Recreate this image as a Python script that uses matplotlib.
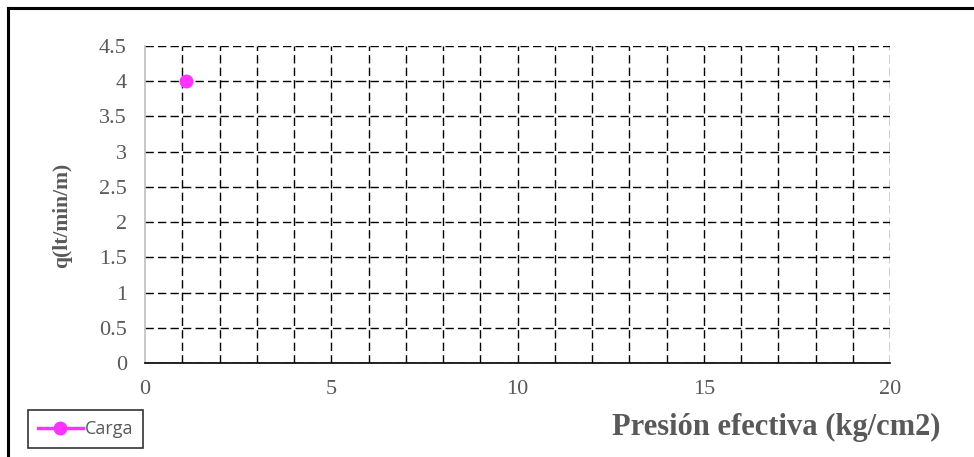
import matplotlib
matplotlib.use("Agg")
import matplotlib.pyplot as plt
from matplotlib.lines import Line2D
import numpy as np

presion = [1.1]
caudal = [4.0]
serie = "Carga"
xlabel = "Presión efectiva (kg/cm2)"
ylabel = "q(lt/min/m)"
xticks = [0, 5, 10, 15, 20]
yticks = [0, 0.5, 1, 1.5, 2, 2.5, 3, 3.5, 4, 4.5]

gray = "#595959"
mag = "#FF33FF"

fig = plt.figure(figsize=(9.74, 4.57), dpi=100)
ax = fig.add_axes([145/974, 1-363/457, (890-145)/974, (363-46)/457])

ax.plot(presion, caudal, color=mag, marker="o", markersize=9, linewidth=2.5, label=serie, zorder=5, clip_on=False)

ax.set_xlim(0, 20)
ax.set_ylim(0, 4.5)
ax.set_xticks(xticks)
ax.set_xticks(np.arange(0, 21, 1), minor=True)
ax.set_yticks(yticks)
ax.set_yticklabels([f"{v:g}" for v in yticks])
ax.tick_params(axis="both", which="both", length=0, labelcolor=gray, labelsize=16)
ax.tick_params(axis="y", pad=13)
ax.tick_params(axis="x", pad=12)
for lab in ax.get_xticklabels() + ax.get_yticklabels():
    lab.set_fontfamily("Liberation Serif")

ax.grid(True, which="both", axis="x", color="black", linestyle=(0, (6, 3)), linewidth=1)
ax.grid(True, which="major", axis="y", color="black", linestyle=(0, (6, 3)), linewidth=1)
ax.set_axisbelow(True)
ax.xaxis.get_major_ticks()[0].gridline.set_visible(False)
ax.spines["top"].set_visible(False)
ax.spines["right"].set_visible(False)
ax.spines["left"].set_color("#BFBFBF")
ax.spines["left"].set_linewidth(1.2)
ax.spines["bottom"].set_color("black")
ax.spines["bottom"].set_linewidth(1.2)

fig.text(776/974, 1-427/457, xlabel, ha="center", va="center", fontsize=22,
         fontweight="bold", color=gray, family="Liberation Serif")
fig.text(62/974, 1-215/457, ylabel, ha="center", va="center", fontsize=15.5,
         fontweight="bold", color=gray, family="Liberation Serif", rotation=90)

leg = ax.legend(loc="center", bbox_to_anchor=(85.5/974, 1-429/457), bbox_transform=fig.transFigure,
                frameon=True, fancybox=False, edgecolor="black",
                handlelength=2.5, handletextpad=0.1, borderpad=0.55, borderaxespad=0,
                prop={"family": "Open Sans", "size": 13})
leg.get_frame().set_linewidth(1.2)
for t in leg.get_texts():
    t.set_color(gray)

fig.add_artist(Line2D([8/974, 8/974], [0, 1-8/457], transform=fig.transFigure, color="black", linewidth=2.2))
fig.add_artist(Line2D([8/974, 1], [1-8/457, 1-8/457], transform=fig.transFigure, color="black", linewidth=2.2))

fig.savefig("out.png", dpi=100)
